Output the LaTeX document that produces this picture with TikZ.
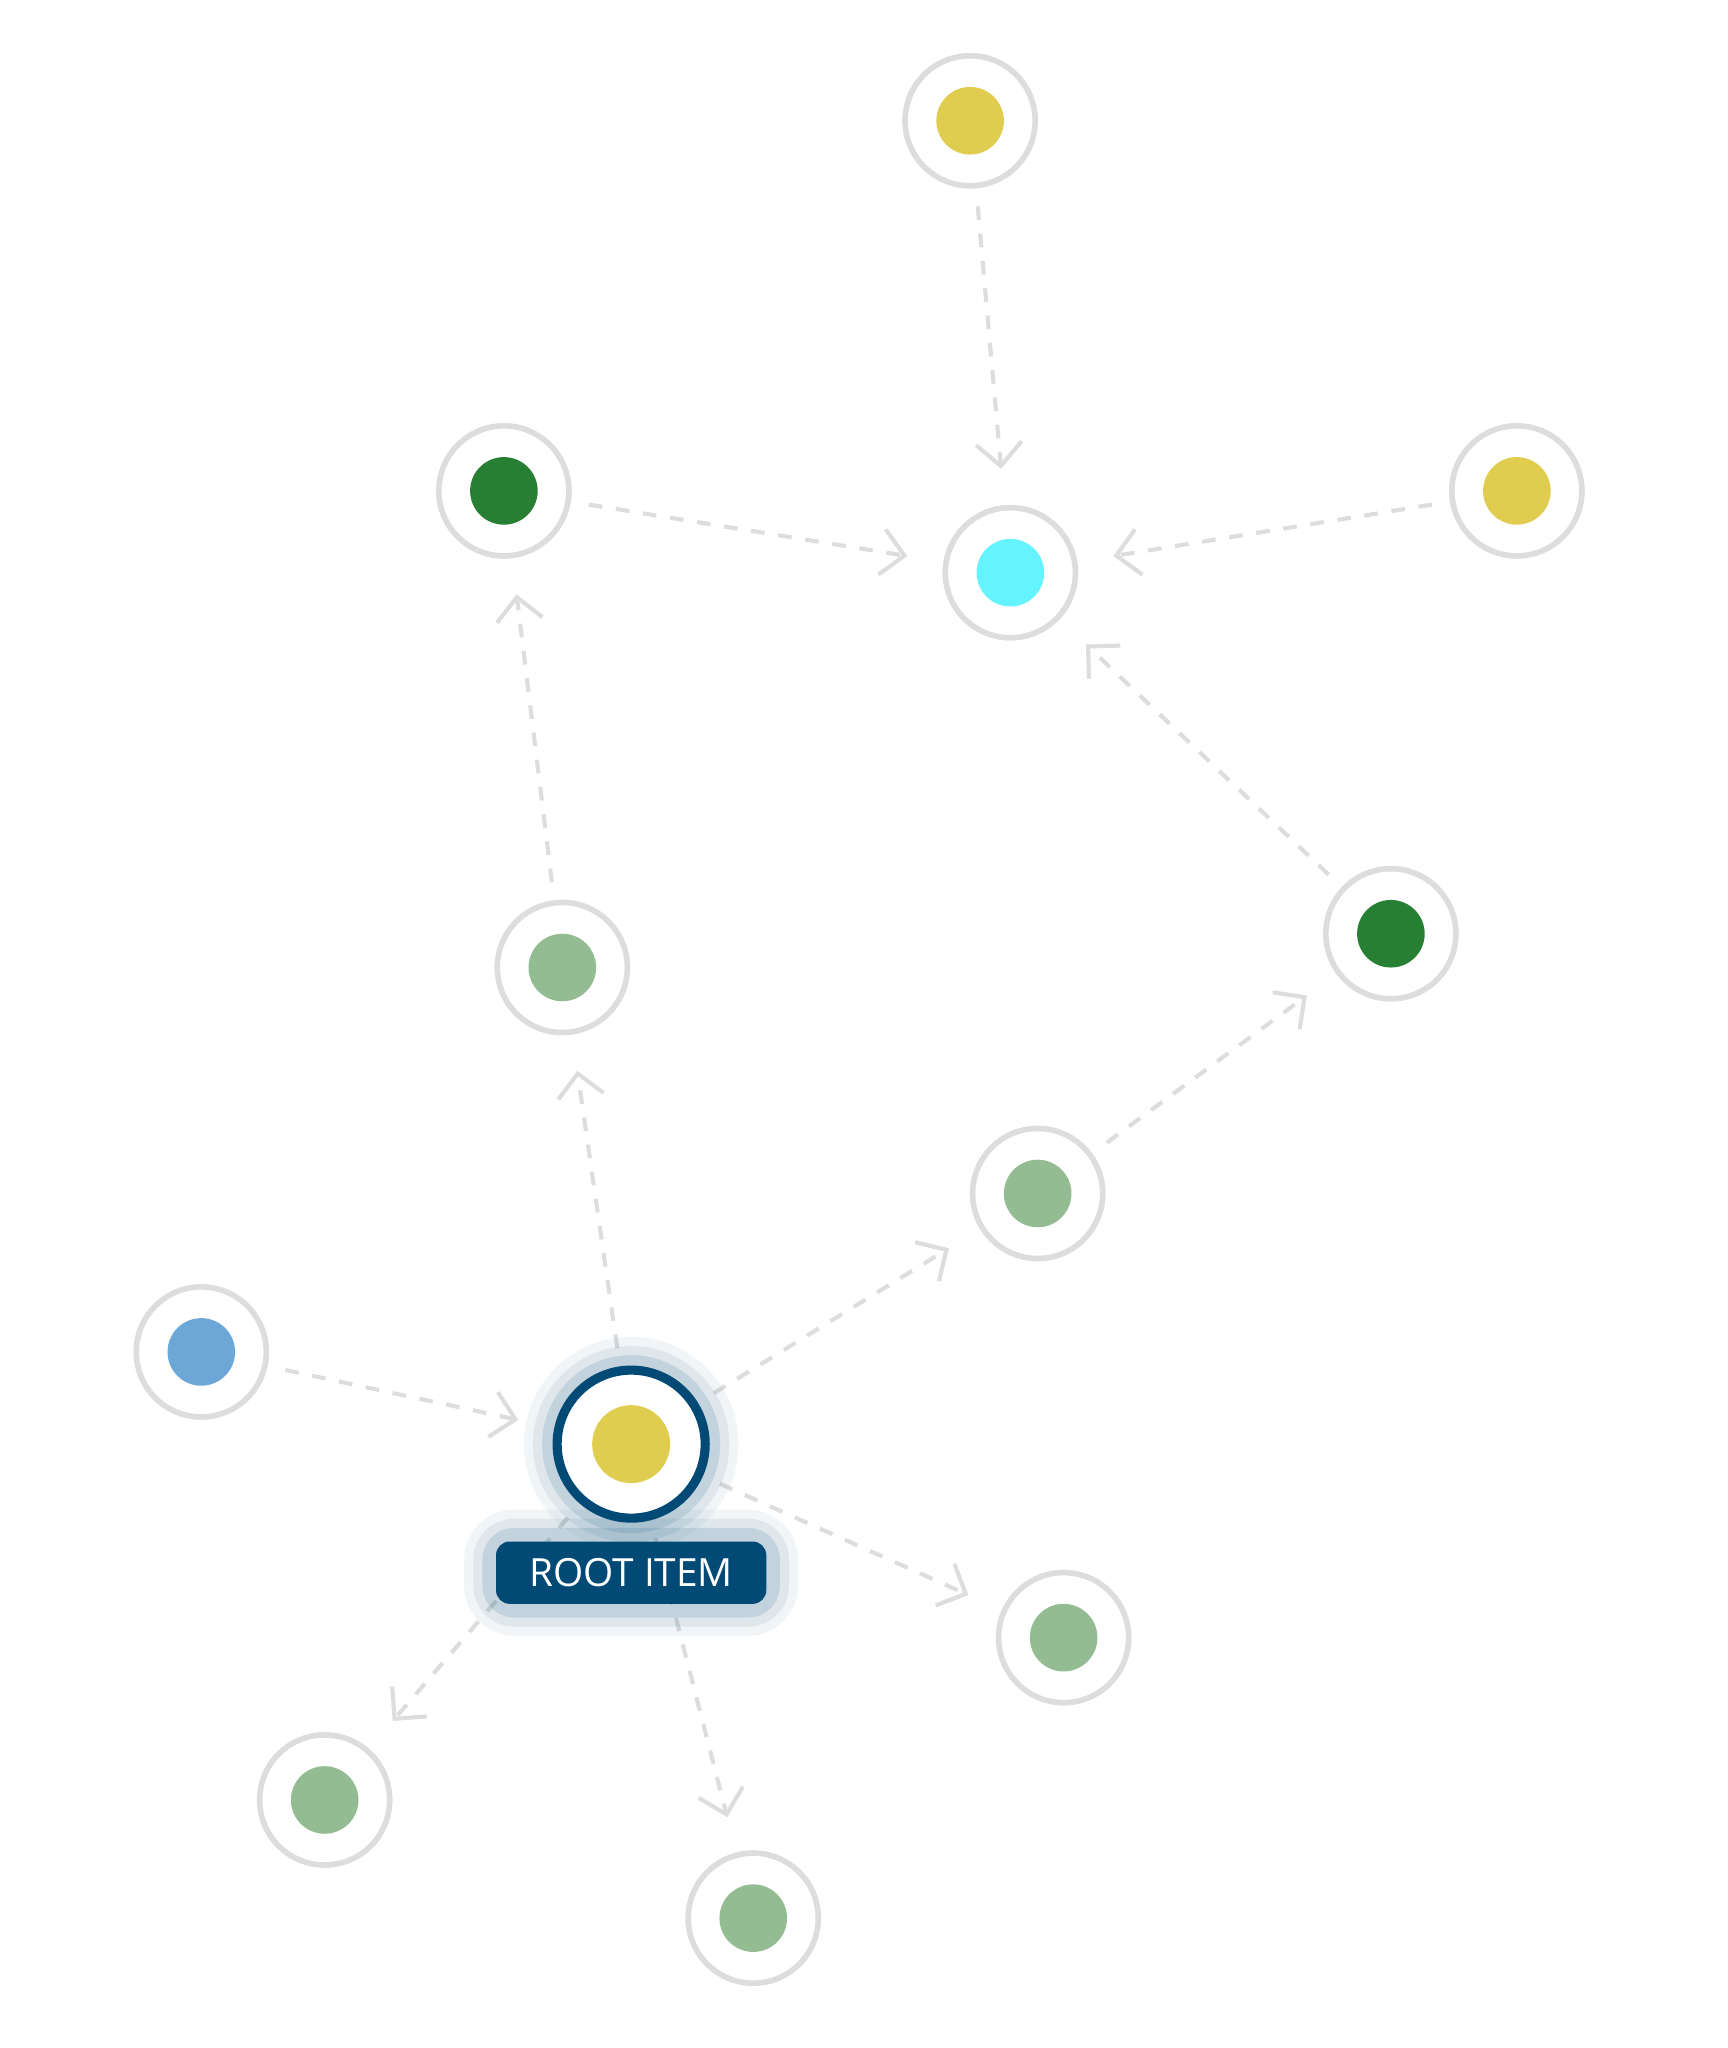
\documentclass[tikz,border=0pt]{standalone}
\usepackage{fontspec}
\setsansfont{Open Sans}
\usetikzlibrary{arrows.meta}
\definecolor{ringg}{HTML}{DDDDDD}
\definecolor{cy}{HTML}{E0CC4E}
\definecolor{dg}{HTML}{267F33}
\definecolor{lg}{HTML}{93BC93}
\definecolor{cn}{HTML}{64F3FF}
\definecolor{bl}{HTML}{6CA7D8}
\definecolor{navy}{HTML}{004A75}
\tikzset{
 x=0.01cm,y=-0.01cm,
 ring/.style={circle,draw=ringg,line width=1.2pt,fill=white,minimum size=1.0cm,inner sep=0pt},
 dot/.style={circle,fill=#1,minimum size=0.52cm,inner sep=0pt},
 edge/.style={draw=ringg,line width=0.9pt,dash pattern=on 3pt off 3pt,-{Straight Barb[length=5pt,width=10pt,line width=0.9pt]},shorten >=8pt,shorten <=4pt}
}
\begin{document}
\begin{tikzpicture}
\useasboundingbox (0,0) rectangle (1330,1577);
\fill[white] (0,0) rectangle (1330,1577);
\foreach \n/\x/\y/\c in {top/747/93/cy, dgl/388/378/dg, cyan/778/441/cn, yr/1168/378/cy, mg/433/745/lg, dgr/1071/719/dg, lg1/799/919/lg, blue/155/1041/bl, br/819/1261/lg, bl1/250/1386/lg, bot/580/1477/lg}{
 \node[ring] (\n) at (\x,\y) {};
}
\node[circle,minimum size=1.2cm,inner sep=0pt] (root) at (486,1112) {};
\begin{scope}[on background layer/.style={}]
\draw[edge] (top) -- (cyan);
\draw[edge] (dgl) -- (cyan);
\draw[edge] (yr) -- (cyan);
\draw[edge] (dgr) -- (cyan);
\draw[edge] (mg) -- (dgl);
\draw[edge] (root) -- (mg);
\draw[edge] (root) -- (lg1);
\draw[edge] (lg1) -- (dgr);
\draw[edge] (blue) -- (root);
\draw[edge] (root) -- (br);
\draw[edge] (root) -- (bl1);
\draw[edge] (root) -- (bot);
\end{scope}
\foreach \n/\x/\y/\c in {top/747/93/cy, dgl/388/378/dg, cyan/778/441/cn, yr/1168/378/cy, mg/433/745/lg, dgr/1071/719/dg, lg1/799/919/lg, blue/155/1041/bl, br/819/1261/lg, bl1/250/1386/lg, bot/580/1477/lg}{
 \node[ring] at (\x,\y) {};
 \node[dot=\c] at (\x,\y) {};
}
\foreach \w/\o in {14/0.05,10/0.08,6/0.12}{
 \draw[navy,opacity=\o,line width=\w pt] (root.center) circle (58);
 \draw[navy,opacity=\o,line width=\w pt,rounded corners=4pt] (382,1187) rectangle (590,1235);
}
\fill[white] (root.center) circle (58);
\draw[navy,line width=2pt] (root.center) circle (57);
\node[dot=cy,minimum size=0.6cm] at (root.center) {};
\node[fill=navy,rounded corners=3pt,minimum width=2.08cm,minimum height=0.48cm,text=white,font=\sffamily\fontsize{8.5}{10}\selectfont] (lab) at (486,1211) {ROOT ITEM};
\end{tikzpicture}
\end{document}
